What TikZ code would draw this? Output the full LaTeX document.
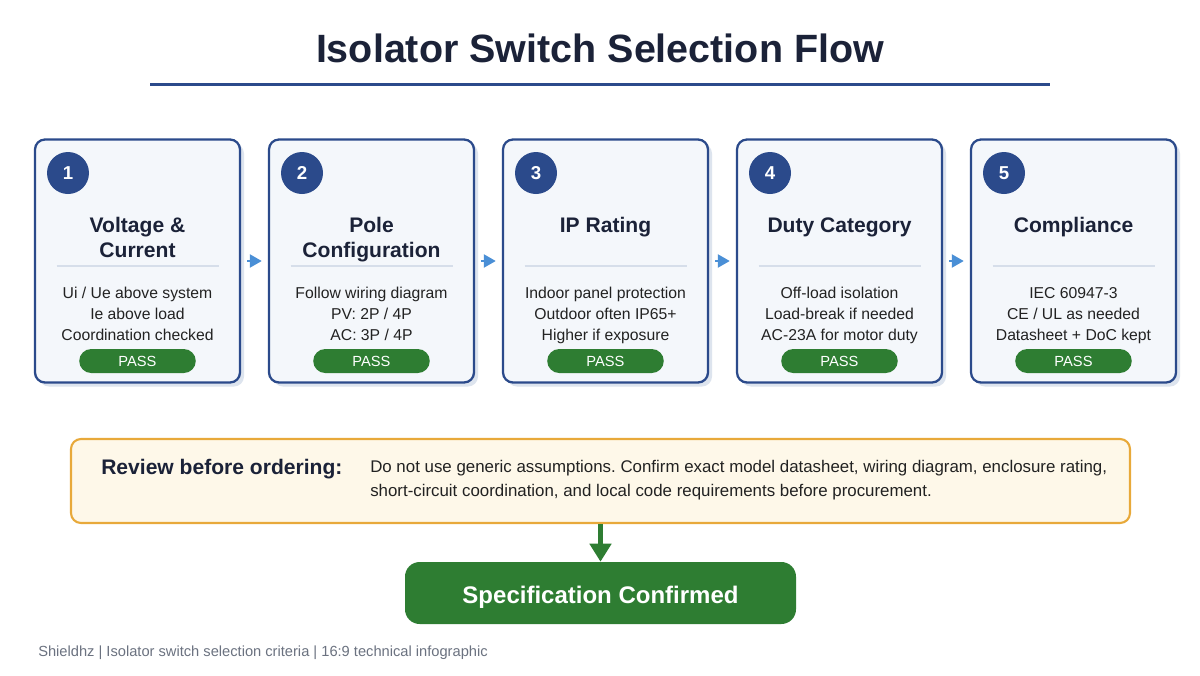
\documentclass[tikz,border=0pt]{standalone}
\usepackage{fontspec}
\setmainfont{Liberation Sans}
\usetikzlibrary{arrows.meta,calc}
\frenchspacing
\definecolor{navy}{HTML}{2B4A8B}
\definecolor{ink}{HTML}{1B2238}
\definecolor{cardfill}{HTML}{F4F7FB}
\definecolor{shadowcol}{HTML}{DDE4EE}
\definecolor{dividercol}{HTML}{D6DEEA}
\definecolor{passgreen}{HTML}{2E7D32}
\definecolor{flowblue}{HTML}{4A8FD6}
\definecolor{reviewfill}{HTML}{FEF8E9}
\definecolor{reviewedge}{HTML}{E8A93A}
\definecolor{bodytext}{HTML}{222222}
\definecolor{footcol}{HTML}{6B7280}
\newcommand\makecard[7]{%
  \node[cardshadow] (shadow#1) at (#2+4,265) {};
  \node[card] (card#1) at (#2,261) {};
  \node[numdot] (num#1) at (#2-69.5,173) {#1};
  \node[cardtitle] (ttla#1) at (#2,232) {#3};
  \node[cardtitle] (ttlb#1) at (#2,257) {#4};
  \coordinate (divl#1) at (#2-81,266);
  \coordinate (divr#1) at (#2+81,266);
  \draw[dividerline] (divl#1) -- (divr#1);
  \node[bodyline] (la#1) at (#2,298) {#5};
  \node[bodyline] (lb#1) at (#2,319) {#6};
  \node[bodyline] (lc#1) at (#2,340) {#7};
  \node[passpill] (pass#1) at (#2,361) {PASS};
}
\begin{document}
\begin{tikzpicture}[x=0.75pt,y=-0.75pt,
  card/.style={draw=navy, line width=1.7pt, fill=cardfill, rounded corners=7.5pt,
    minimum width=153.75pt, minimum height=182.25pt, inner sep=0pt},
  cardshadow/.style={fill=shadowcol, rounded corners=7.5pt,
    minimum width=153.75pt, minimum height=182.25pt, inner sep=0pt},
  numdot/.style={circle, fill=navy, minimum size=31.5pt, inner sep=0pt, text=white,
    font=\bfseries\fontsize{14}{16}\selectfont},
  cardtitle/.style={anchor=base, inner sep=0pt, text=ink,
    font=\bfseries\fontsize{15.8}{18}\selectfont},
  bodyline/.style={anchor=base, inner sep=0pt, text=bodytext,
    font=\fontsize{11.8}{14}\selectfont},
  dividerline/.style={draw=dividercol, line width=1.5pt},
  passpill/.style={fill=passgreen, rounded corners=9pt, minimum width=87.4pt,
    minimum height=18pt, inner sep=0pt, text=white, font=\fontsize{11}{13}\selectfont},
  flowarrow/.style={draw=flowblue, line width=2.2pt, -{Triangle[length=9pt,width=9.5pt]}},
  reviewbox/.style={draw=reviewedge, line width=1.6pt, fill=reviewfill, rounded corners=7.5pt,
    minimum width=794.25pt, minimum height=63pt, inner sep=0pt},
  greenarrow/.style={draw=passgreen, line width=3.75pt, -{Triangle[length=13.5pt,width=15.75pt]}},
  finalbox/.style={fill=passgreen, rounded corners=11pt, minimum width=293.25pt,
    minimum height=46.5pt, inner sep=0pt},
  finaltext/.style={anchor=base, inner sep=0pt, text=white, font=\bfseries\fontsize{18}{21}\selectfont},
]
\fill[white] (0,0) rectangle (1200,675);
\useasboundingbox (0,0) rectangle (1200,675);

% title
\node[anchor=base, inner sep=0pt, text=ink, font=\bfseries\fontsize{29.6}{34}\selectfont]
  (title) at (600,62.5) {Isolator Switch Selection Flow};
\coordinate (ruleL) at (150,84);
\coordinate (ruleR) at (1050,84);
\draw[navy, line width=2.25pt] (ruleL) -- (ruleR);

% cards
\makecard{1}{137.5}{Voltage \&}{Current}{Ui / Ue above system}{Ie above load}{Coordination checked}
\makecard{2}{371.5}{Pole}{Configuration}{Follow wiring diagram}{PV: 2P / 4P}{AC: 3P / 4P}
\makecard{3}{605.5}{IP Rating}{}{Indoor panel protection}{Outdoor often IP65+}{Higher if exposure}
\makecard{4}{839.5}{Duty Category}{}{Off-load isolation}{Load-break if needed}{AC-23A for motor duty}
\makecard{5}{1073.5}{Compliance}{}{IEC 60947-3}{CE / UL as needed}{Datasheet + DoC kept}

% flow arrows
\foreach \a/\b in {1/2,2/3,3/4,4/5}{
  \draw[flowarrow] ($(card\a.east)+(6,0)$) -- ($(card\b.west)+(-6,0)$);
}

% review box
\node[reviewbox] (review) at (600.5,481) {};
\node[anchor=base west, inner sep=0pt, text=ink, font=\bfseries\fontsize{15.8}{18}\selectfont]
  (reviewlabel) at (101,474) {Review before ordering:};
\node[anchor=base west, inner sep=0pt, text=bodytext, font=\fontsize{12.65}{15}\selectfont]
  (reviewa) at (370,472) {Do not use generic assumptions. Confirm exact model datasheet, wiring diagram, enclosure rating,};
\node[anchor=base west, inner sep=0pt, text=bodytext, font=\fontsize{12.65}{15}\selectfont]
  (reviewb) at (370,496.5) {short-circuit coordination, and local code requirements before procurement.};

% final
\node[finalbox] (final) at (600.5,593) {};
\node[finaltext] (finallabel) at (600.5,603) {Specification Confirmed};
\draw[greenarrow] (review.south) -- (final.north);

% footer
\node[anchor=base west, inner sep=0pt, text=footcol, font=\fontsize{11}{13}\selectfont]
  (footer) at (38,656) {Shieldhz | Isolator switch selection criteria | 16:9 technical infographic};
\end{tikzpicture}
\end{document}
